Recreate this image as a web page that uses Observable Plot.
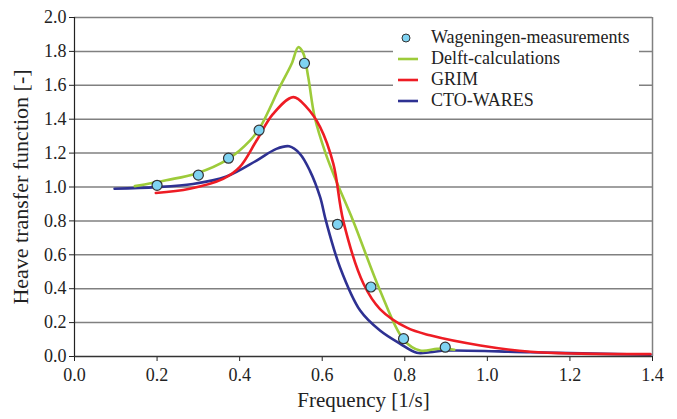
<!DOCTYPE html>
<html>
<head>
<meta charset="utf-8">
<script src="https://cdn.jsdelivr.net/npm/d3@7"></script>
<script src="https://cdn.jsdelivr.net/npm/@observablehq/plot@0.6"></script>
<style>
  body { margin: 0; background: #fff; }
  #wrap { position: relative; width: 677px; height: 419px; font-family: 'Liberation Serif', 'Times New Roman', Times, 'DejaVu Serif', serif; }
  #legend { position: absolute; left: 393px; top: 22px; width: 246px; height: 94px; background: #fff; font-size: 18px; color: #222; }
  .row { position: absolute; left: 0; height: 21px; display: flex; align-items: center; }
  .row svg { margin-left: 4px; margin-right: 12px; }
  svg text { font-family: 'Liberation Serif', 'Times New Roman', Times, 'DejaVu Serif', serif; }
</style>
</head>
<body>
<div id="wrap"></div>
<script>
const seriesNames = ["Wageningen-measurements", "Delft-calculations", "GRIM", "CTO-WARES"];
const colors = ["#7fd3f2", "#9dcb3a", "#ee1c24", "#2e3192"];

const measFreq = [0.2, 0.3, 0.373, 0.447, 0.557, 0.637, 0.718, 0.797, 0.898];
const measVal  = [1.01, 1.07, 1.17, 1.335, 1.73, 0.78, 0.41, 0.105, 0.055];

const delftFreq = [0.146, 0.222, 0.295, 0.372, 0.425, 0.449, 0.497, 0.526, 0.542, 0.554, 0.566, 0.582, 0.608, 0.635, 0.675, 0.740, 0.797, 0.837, 0.878, 0.902, 0.92];
const delftVal  = [1.005, 1.04, 1.08, 1.165, 1.274, 1.35, 1.589, 1.727, 1.825, 1.79, 1.65, 1.41, 1.2, 1.03, 0.80, 0.39, 0.10, 0.035, 0.045, 0.045, 0.04];

const grimFreq = [0.197, 0.279, 0.36, 0.40, 0.441, 0.481, 0.53, 0.562, 0.595, 0.627, 0.651, 0.70, 0.740, 0.805, 0.861, 0.983, 1.104, 1.225, 1.395];
const grimVal  = [0.965, 0.99, 1.048, 1.117, 1.274, 1.431, 1.530, 1.471, 1.353, 1.136, 0.80, 0.429, 0.28, 0.17, 0.125, 0.065, 0.028, 0.017, 0.014];

const ctoFreq = [0.097, 0.198, 0.287, 0.368, 0.441, 0.489, 0.520, 0.546, 0.570, 0.595, 0.609, 0.643, 0.692, 0.740, 0.789, 0.829, 0.861, 0.902, 1.104, 1.395];
const ctoVal  = [0.99, 0.999, 1.018, 1.062, 1.156, 1.225, 1.24, 1.196, 1.097, 0.94, 0.80, 0.527, 0.271, 0.153, 0.075, 0.022, 0.025, 0.035, 0.025, 0.01];

const xTicks = [0, 0.2, 0.4, 0.6, 0.8, 1.0, 1.2, 1.4];
const yTicks = [0, 0.2, 0.4, 0.6, 0.8, 1.0, 1.2, 1.4, 1.6, 1.8, 2.0];

const zip = (xs, ys) => xs.map((x, i) => ({x, y: ys[i]}));
const meas = zip(measFreq, measVal);
const delft = zip(delftFreq, delftVal);
const grim = zip(grimFreq, grimVal);
const cto = zip(ctoFreq, ctoVal);

const serif = "'Liberation Serif', 'Times New Roman', Times, 'DejaVu Serif', serif";

const plot = Plot.plot({
  width: 677, height: 419,
  marginLeft: 74, marginRight: 25, marginTop: 17, marginBottom: 63,
  style: { fontFamily: serif, fontSize: "18px", color: "#222", background: "#fff" },
  x: { domain: [0, 1.4] },
  y: { domain: [0, 2.0] },
  marks: [
    Plot.ruleY(yTicks.slice(1), { stroke: "#808080", strokeWidth: 1.5 }),
    Plot.ruleX([1.4], { stroke: "#808080", strokeWidth: 1.5 }),
    Plot.line(cto, { x: "x", y: "y", stroke: colors[3], strokeWidth: 2.6, curve: "catmull-rom" }),
    Plot.line(delft, { x: "x", y: "y", stroke: colors[1], strokeWidth: 2.6, curve: "catmull-rom" }),
    Plot.line(grim, { x: "x", y: "y", stroke: colors[2], strokeWidth: 2.6, curve: "catmull-rom" }),
    Plot.dot(meas, { x: "x", y: "y", r: 5, fill: colors[0], stroke: "#333", strokeWidth: 1.2 }),
    Plot.axisX({ ticks: xTicks, tickFormat: d3.format(".1f"), tickSize: 5, tickPadding: 7, label: null, stroke: "#222", fontFamily: serif, fontSize: 18 }),
    Plot.axisY({ ticks: yTicks, tickFormat: d3.format(".1f"), tickSize: 5, tickPadding: 3, label: null, stroke: "#222", fontFamily: serif, fontSize: 18 }),
    Plot.ruleY([0], { stroke: "#333", strokeWidth: 1.5 }),
    Plot.ruleX([0], { stroke: "#222", strokeWidth: 1.2 }),
    Plot.text(["Heave transfer function [-]"], { frameAnchor: "left", textAnchor: "middle", dx: -54, rotate: -90, fontSize: 22, fill: "#222", fontFamily: serif }),
    Plot.text(["Frequency [1/s]"], { frameAnchor: "bottom", textAnchor: "middle", dy: 50, fontSize: 21, fill: "#222", fontFamily: serif })
  ]
});

const wrap = document.getElementById("wrap");
wrap.appendChild(plot);

const legend = document.createElement("div");
legend.id = "legend";
seriesNames.forEach((name, i) => {
  const row = document.createElement("div");
  row.className = "row";
  row.style.top = (5 + i * 21) + "px";
  const sw = i === 0
    ? `<svg width="22" height="14"><circle cx="9" cy="7" r="4" fill="${colors[0]}" stroke="#333" stroke-width="1"/></svg>`
    : `<svg width="22" height="14"><line x1="1" x2="21" y1="7" y2="7" stroke="${colors[i]}" stroke-width="2.6"/></svg>`;
  row.innerHTML = sw + `<span>${name}</span>`;
  legend.appendChild(row);
});
wrap.appendChild(legend);
</script>
</body>
</html>
